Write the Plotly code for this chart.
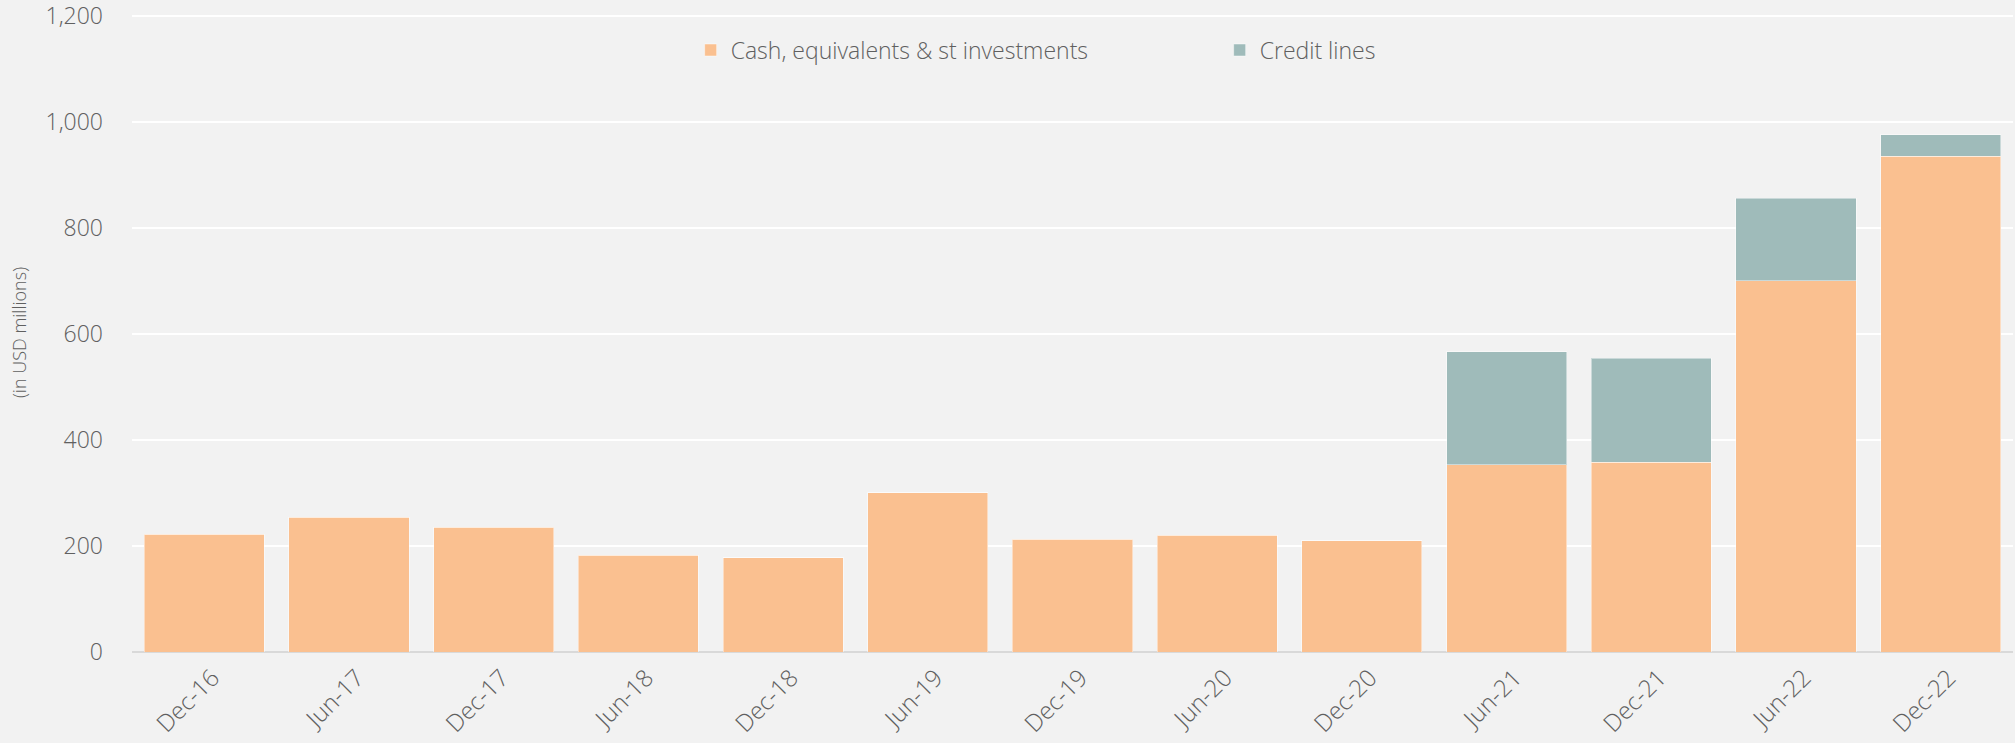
import plotly.graph_objects as go

# Half-year liquidity position, USD millions
periods = ["Dec-16", "Jun-17", "Dec-17", "Jun-18", "Dec-18", "Jun-19", "Dec-19",
           "Jun-20", "Dec-20", "Jun-21", "Dec-21", "Jun-22", "Dec-22"]
cash_equivalents = [222, 254, 235, 182, 178, 300, 213, 220, 210, 353, 358, 700, 935]
credit_lines = [0, 0, 0, 0, 0, 0, 0, 0, 0, 213, 196, 156, 40]

y_ticks = [0, 200, 400, 600, 800, 1000, 1200]
y_tick_labels = ["0", "200", "400", "600", "800", "1,000", "1,200"]

FONT = "Open Sans"
TEXT_COLOR = "#606060"

fig = go.Figure()
fig.add_trace(go.Bar(
    x=periods, y=cash_equivalents, name="Cash, equivalents & st investments",
    marker=dict(color="#FAC090", line=dict(color="rgba(255,255,255,0.45)", width=1)),
    hoverinfo="skip",
))
fig.add_trace(go.Bar(
    x=periods, y=credit_lines, name="Credit lines",
    marker=dict(color="#9FBBBA", line=dict(color="rgba(255,255,255,0.45)", width=1)),
    hoverinfo="skip",
))

fig.update_layout(
    width=2015, height=743,
    barmode="stack", bargap=0.17,
    paper_bgcolor="#F2F2F2", plot_bgcolor="#F2F2F2",
    margin=dict(l=132, r=2, t=13, b=91),
    font=dict(family=FONT, color=TEXT_COLOR, size=22, weight=300),
    showlegend=True,
    legend=dict(
        orientation="h", x=0.297, y=0.942, xanchor="left", yanchor="middle",
        font=dict(family=FONT, size=23, color=TEXT_COLOR, weight=300),
        bgcolor="rgba(0,0,0,0)", entrywidth=484, entrywidthmode="pixels",
        traceorder="normal",
    ),
)

fig.update_xaxes(
    type="category", tickangle=-45, showgrid=False, ticks="",
    tickfont=dict(family=FONT, size=24, color=TEXT_COLOR, weight=300),
    ticklabelshift=8, ticklabelstandoff=6,
    showline=False, automargin=False,
)
# a little headroom above 1,200 so its gridline is drawn inside the plot area
fig.update_yaxes(
    range=[0, 1205], tickvals=y_ticks, ticktext=y_tick_labels,
    showgrid=True, gridcolor="#FFFFFF", gridwidth=2,
    zeroline=True, zerolinecolor="#D9D9D9", zerolinewidth=2,
    ticks="", ticklabelstandoff=28, ticklabeloverflow="allow",
    tickfont=dict(family=FONT, size=23, color=TEXT_COLOR, weight=300),
    title=dict(text="(in USD millions)", standoff=14,
               font=dict(family=FONT, size=18, color=TEXT_COLOR, weight=300)),
    automargin=False,
)

fig.write_html("out.html")
